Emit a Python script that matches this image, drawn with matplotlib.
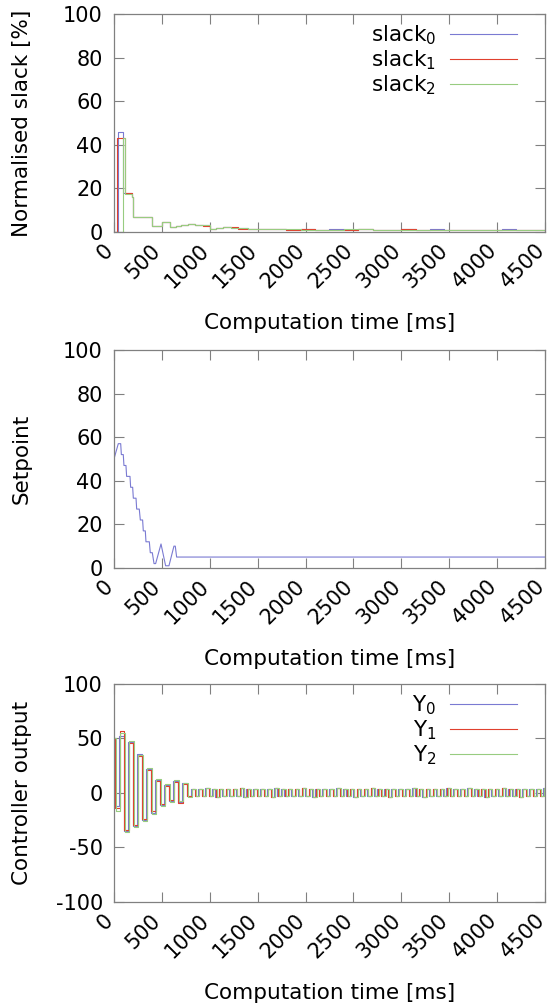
import numpy as np
import matplotlib
matplotlib.use("Agg")
import matplotlib.pyplot as plt
import matplotlib.transforms as mtransforms

plt.rcParams['axes.unicode_minus'] = False

# normalised slack [%], step breakpoints in ms
t_slack = [0, 35, 45, 97, 115, 185, 195, 393, 505, 585, 650, 700, 770, 850, 930, 1000,
           1060, 1140, 1220, 1300, 1400, 1500, 1650, 1800, 1950, 2100, 2250, 2400, 2550,
           2700, 2850, 3000, 3150, 3300, 3450, 3600, 3750, 3900, 4050, 4200, 4350, 4500]
slack0 = [0, 0, 46, 17.7, 17.7, 16, 7, 2.8, 4.7, 2.4, 2.6, 3.0, 3.7, 3.4, 3.0, 1.2,
          1.8, 2.4, 2.0, 1.7, 1.5, 1.2, 1.4, 1.0, 1.3, 0.9, 1.2, 1.0, 1.4,
          0.8, 1.1, 1.3, 0.9, 1.2, 1.0, 0.8, 1.1, 0.9, 1.2, 0.8, 1.0, 1.0]
slack1 = [0, 43, 43, 43, 17.7, 16, 7, 2.8, 4.7, 2.4, 2.7, 3.1, 3.6, 3.3, 2.9, 1.3,
          1.9, 2.3, 2.1, 1.6, 1.4, 1.3, 1.3, 1.1, 1.2, 1.0, 1.1, 1.1, 1.3,
          0.9, 1.0, 1.2, 1.0, 1.1, 0.9, 0.9, 1.0, 1.0, 1.1, 0.9, 0.9, 0.9]
slack2 = [0, 0, 0, 43, 17.5, 16, 7, 2.9, 4.6, 2.5, 2.6, 3.0, 3.5, 3.4, 3.0, 1.4,
          1.8, 2.2, 2.0, 1.7, 1.5, 1.2, 1.4, 1.2, 1.1, 1.1, 1.0, 1.2, 1.2,
          1.0, 0.9, 1.1, 1.1, 1.0, 1.0, 0.8, 0.9, 1.1, 1.0, 1.0, 0.8, 0.8]

# setpoint
t_setpoint = [0, 45, 70, 77, 97, 104, 125, 132, 167, 174, 195, 202, 230, 237, 264, 275,
              299, 306, 327, 334, 369, 379, 400, 418, 435, 491, 539, 574, 626, 640, 654, 4500]
setpoint = [50, 57, 57, 52, 52, 47, 47, 42, 42, 37, 37, 32, 32, 27, 27, 22,
            22, 17, 17, 12, 12, 7, 7, 2, 2, 11, 1, 1, 10, 10, 5, 5]

# controller output: transient sampled every 47 ms, steady state every 36 ms
head_period = 47
tail_period = 36
y_start = [8, 14, 20]
y0_head = [50, -12, 52, -35, 47, -30, 36, -25, 22, -18, 12, -11, 7, -7, 11, -8, 9, -3]
y1_head = [50, -14, 57, -34, 46, -29, 34, -24, 21, -17, 11, -10, 6, -6, 10, -9, 8, -3]
y2_head = [50, -17, 55, -36, 48, -31, 35, -26, 23, -19, 13, -12, 8, -8, 12, -7, 9, -4]
y_tail = [4, -3, 4, -3, 5, -3, 4, -4, 4, -3, 4, -3, 4, -3, 5, -4, 4, -3, 4, -3,
          4, -3, 4, -4, 5, -3, 4, -3, 4, -3, 4, -3, 5, -3, 4, -4, 4, -3, 4, -3,
          4, -3, 5, -3, 4, -3, 4, -4, 4, -3, 4, -3, 5, -3, 4, -3, 4, -4, 4, -3,
          4, -3, 4, -3, 5, -3, 4, -4, 4, -3, 4, -3, 4, -3, 5, -3, 4, -3, 4, -3,
          5, -3, 4, -3, 4, -4, 4, -3, 4, -3, 5, -3, 4, -3, 4, -4, 4, -3, 4, -3,
          4, -3, 5, -3]

x_ticks = [0, 500, 1000, 1500, 2000, 2500, 3000, 3500, 4000, 4500]

BLUE = '#7a7ad2'
RED = '#e0402e'
GREEN = '#98cc80'
FRAME = '#808080'


def sample_times(start, n_head, n_tail):
    t = [0] + [start + head_period * k for k in range(n_head - 1)]
    t0 = t[-1] + head_period
    t += [t0 + tail_period * k for k in range(n_tail)]
    return t


def style(ax, yticks, ylim, ylabel):
    ax.set_xlim(0, 4500)
    ax.set_ylim(ylim)
    ax.set_xticks(x_ticks)
    ax.set_yticks(yticks)
    ax.set_xticklabels([str(v) for v in x_ticks], rotation=45, ha='right', va='center',
                       rotation_mode='anchor')
    ax.tick_params(direction='in', length=7.5, width=0.8, color=FRAME, top=True, right=True,
                   labelsize=15, pad=8)
    ax.tick_params(axis='x', pad=11)
    # pull the rotated labels a little left so their top right corner sits under the tick
    shift = mtransforms.ScaledTranslation(-3 / 72, 0, fig.dpi_scale_trans)
    for lab in ax.get_xticklabels():
        lab.set_transform(lab.get_transform() + shift)
    for s in ax.spines.values():
        s.set_color(FRAME)
        s.set_linewidth(0.9)
    ax.set_xlabel('Computation time [ms]', fontsize=15.5)
    ax.xaxis.set_label_coords(0.5, -0.37)
    ax.set_ylabel(ylabel, fontsize=15.5)
    ax.yaxis.set_label_coords(-0.19, 0.5)


def legend(ax):
    ax.legend(loc='upper right', bbox_to_anchor=(0.935, 0.955), frameon=False, fontsize=15.5,
              markerfirst=False, handlelength=3.1, handletextpad=0.65, labelspacing=0.05,
              borderpad=0, borderaxespad=0)


fig = plt.figure(figsize=(5.48, 10.07), dpi=100)

# slack
ax1 = fig.add_axes([0.208, 0.7696, 0.7865, 0.2165])
ax1.step(t_slack, slack0, where='post', color=BLUE, lw=0.8, label=r'slack$_0$')
ax1.step(t_slack, slack1, where='post', color=RED, lw=0.8, label=r'slack$_1$')
ax1.step(t_slack, slack2, where='post', color=GREEN, lw=0.8, label=r'slack$_2$')
style(ax1, [0, 20, 40, 60, 80, 100], (0, 100), 'Normalised slack [%]')
legend(ax1)

# setpoint
ax2 = fig.add_axes([0.208, 0.436, 0.7865, 0.2165])
ax2.plot(t_setpoint, setpoint, color=BLUE, lw=0.8)
style(ax2, [0, 20, 40, 60, 80, 100], (0, 100), 'Setpoint')

# controller output
ax3 = fig.add_axes([0.208, 0.1043, 0.7865, 0.2165])
for head, start, col, i in [(y0_head, y_start[0], BLUE, 0),
                            (y1_head, y_start[1], RED, 1),
                            (y2_head, y_start[2], GREEN, 2)]:
    vals = head + y_tail
    t = sample_times(start, len(head), len(y_tail))
    ax3.step(t, vals, where='post', color=col, lw=0.8, label=rf'Y$_{i}$')
style(ax3, [-100, -50, 0, 50, 100], (-100, 100), 'Controller output')
legend(ax3)

fig.savefig('out.png', dpi=100)
